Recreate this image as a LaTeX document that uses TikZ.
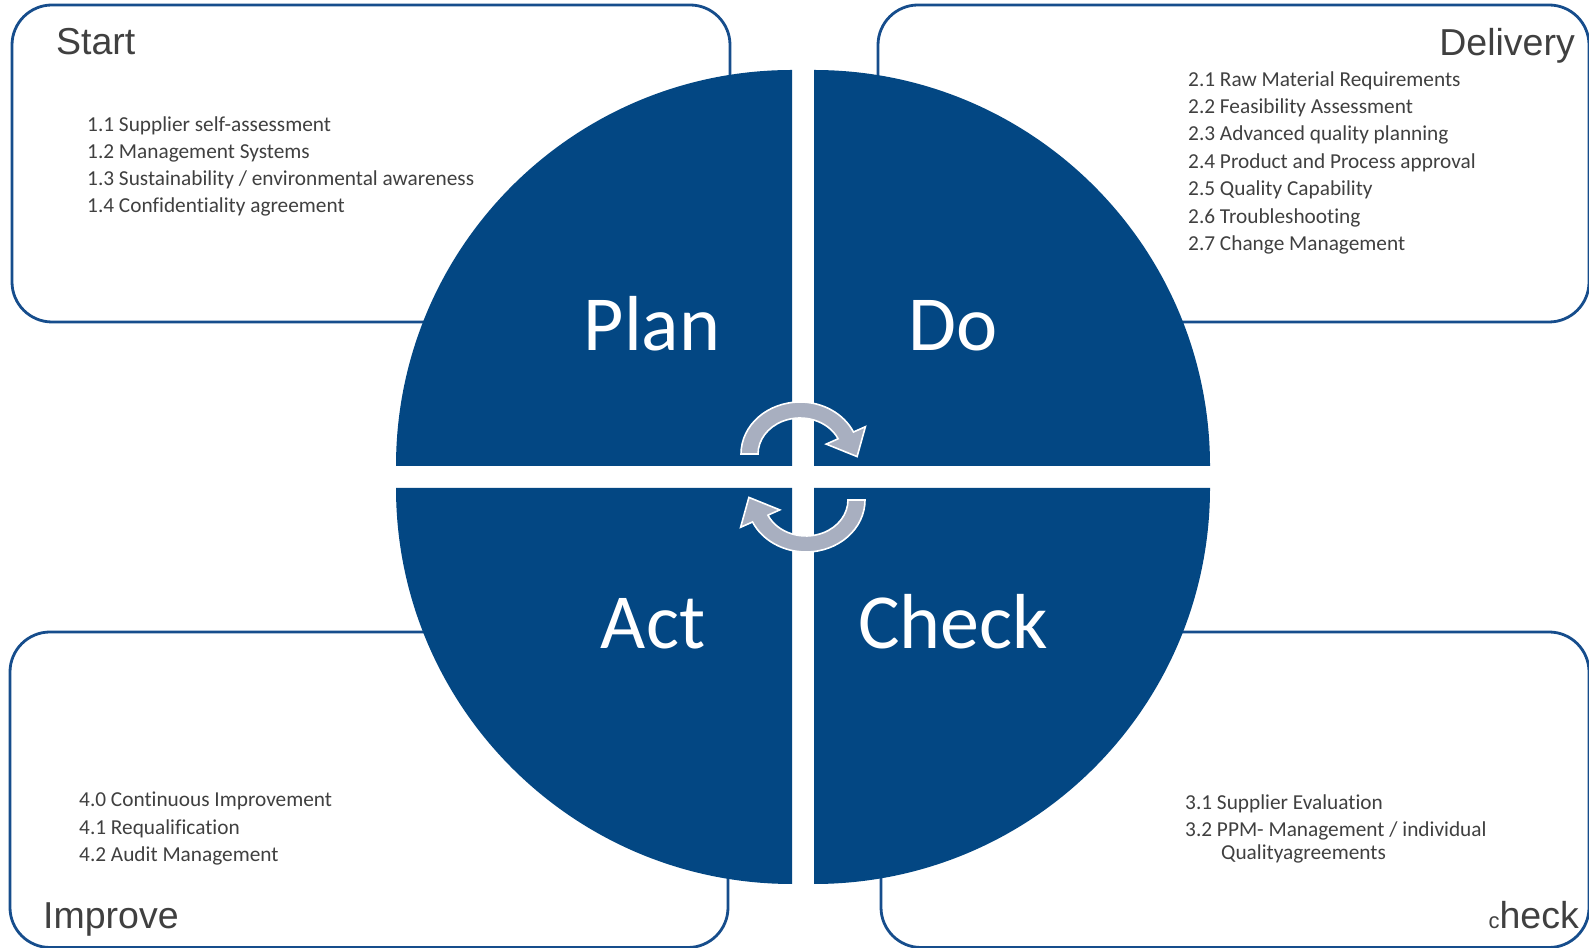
\documentclass[tikz,border=0pt]{standalone}
\usepackage{fontspec}
\setmainfont{Carlito}[Ligatures=NoCommon]
\newfontfamily\titlefont{Liberation Sans}
\definecolor{pdblue}{RGB}{3,71,131}
\definecolor{boxblue}{RGB}{22,77,140}
\definecolor{txtgray}{RGB}{64,64,64}
\definecolor{arrgray}{RGB}{168,175,192}
\begin{document}
\begin{tikzpicture}[x=1pt,y=1pt,
  phasebox/.style={draw=boxblue, line width=2.8pt, rounded corners=40pt},
  quad/.style={fill=pdblue},
  phaselabel/.style={text=white, font=\fontsize{78}{80}\selectfont, anchor=base, inner sep=0pt},
  listtxt/.style={text=txtgray, font=\fontsize{21.3}{27}\selectfont, anchor=base west, inner sep=0pt},
  titletxt/.style={text=txtgray, font=\titlefont\fontsize{37.5}{40}\selectfont, inner sep=0pt},
  arrowshape/.style={fill=arrgray, draw=white, line width=1.6pt, line join=miter},
  cycarrow/.pic={
    \path[arrowshape] (-59,0) arc[start angle=180, end angle=25, x radius=59, y radius=52]
      -- (65.4,27.3) -- (57.1,-2.6) -- (26.2,9.9) -- (38.1,15.2)
      arc[start angle=25, end angle=180, x radius=42, y radius=36] -- cycle;
  }
]
\useasboundingbox (0,0) rectangle (1589,947);
\fill[white] (0,0) rectangle (1589,947);

% outer rounded boxes
\draw[phasebox] (12,942) rectangle (730,625);
\draw[phasebox] (878,942) rectangle (1589,625);
\draw[phasebox] (10,315) rectangle (728,-0.5);
\draw[phasebox] (881,315) rectangle (1589,-0.5);

% quadrants
\fill[quad] (792,481) -- (396,481) arc[start angle=180, end angle=90, radius=396] -- cycle;
\fill[quad] (814,481) -- (814,877) arc[start angle=90, end angle=0, radius=396] -- cycle;
\fill[quad] (792,459) -- (396,459) arc[start angle=180, end angle=270, radius=396] -- cycle;
\fill[quad] (814,459) -- (1210,459) arc[start angle=0, end angle=-90, radius=396] -- cycle;

% cycle arrows
\pic at (800,493) {cycarrow};
\pic[rotate=180] at (806,447) {cycarrow};

% phase labels
\node[phaselabel] (plan) at (652,596) {Plan};
\node[phaselabel] (do) at (953,596) {Do};
\node[phaselabel] (act) at (653,298) {Act};
\node[phaselabel] (check) at (953,298) {Check};

% titles
\node[titletxt, anchor=base west] (tstart) at (56,892) {Start};
\node[titletxt, anchor=base east] (tdelivery) at (1575,891) {Delivery};
\node[titletxt, anchor=base west] (timprove) at (43,19) {Improve};
\node[titletxt, anchor=base east] (tcheck) at (1579,19) {{\fontsize{22}{22}\selectfont c}heck};

% Start list
\node[listtxt] (s1) at (87,815) {1.1 Supplier self-assessment};
\node[listtxt] (s2) at (87,788) {1.2 Management Systems};
\node[listtxt] (s3) at (87,761) {1.3 Sustainability / environmental awareness};
\node[listtxt] (s4) at (87,734) {1.4 Confidentiality agreement};

% Delivery list
\node[listtxt] (d1) at (1188,860) {2.1 Raw Material Requirements};
\node[listtxt] (d2) at (1188,833) {2.2 Feasibility Assessment};
\node[listtxt] (d3) at (1188,806) {2.3 Advanced quality planning};
\node[listtxt] (d4) at (1188,778.5) {2.4 Product and Process approval};
\node[listtxt] (d5) at (1188,751) {2.5 Quality Capability};
\node[listtxt] (d6) at (1188,723.5) {2.6 Troubleshooting};
\node[listtxt] (d7) at (1188,696) {2.7 Change Management};

% Improve list
\node[listtxt] (i1) at (79,140.4) {4.0 Continuous Improvement};
\node[listtxt] (i2) at (79,112) {4.1 Requalification};
\node[listtxt] (i3) at (79,85.6) {4.2 Audit Management};

% Check list
\node[listtxt] (c1) at (1185,137.3) {3.1 Supplier Evaluation};
\node[listtxt] (c2) at (1185,110) {3.2 PPM- Management / individual};
\node[listtxt] (c3) at (1221,87.6) {Qualityagreements};
\end{tikzpicture}
\end{document}
